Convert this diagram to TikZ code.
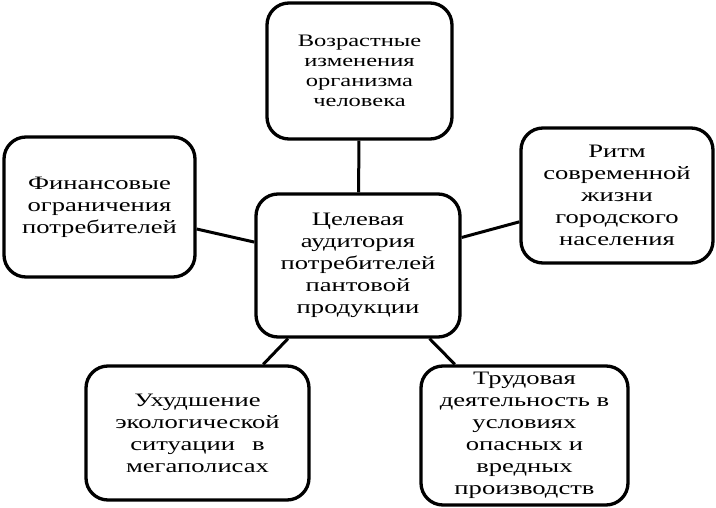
\documentclass[tikz,border=0pt]{standalone}
\usepackage{fontspec}
\setmainfont{Liberation Serif}[FakeStretch=1.4]
\begin{document}
\begin{tikzpicture}[x=1pt,y=-1pt,
  box/.style={draw=black,line width=3.3pt,rounded corners=22pt,align=center,
    inner sep=0pt,fill=white,font=\fontsize{19}{22}\selectfont},
  link/.style={draw=black,line width=3pt}]
\useasboundingbox (0,0) rectangle (716,508);
\node[box,minimum width=204pt,minimum height=143pt] (c) at (358,265.5)
  {Целевая\\аудитория\\потребителей\\пантовой\\продукции};
\node[box,minimum width=185pt,minimum height=136pt,font=\fontsize{17.5}{20}\selectfont] (t) at (359.5,71)
  {Возрастные\\изменения\\организма\\человека};
\node[box,minimum width=191pt,minimum height=140pt] (l) at (99.5,207)
  {Финансовые\\ограничения\\потребителей};
\node[box,minimum width=192pt,minimum height=135pt] (r) at (617,195.5)
  {Ритм\\современной\\жизни\\городского\\населения};
\node[box,minimum width=223pt,minimum height=134pt] (bl) at (197.5,433)
  {Ухудшение\\экологической\\ситуации\hspace{0.9em}в\\мегаполисах};
\node[box,minimum width=207pt,minimum height=139pt] (br) at (524.5,435.5)
  {Трудовая\\деятельность в\\условиях\\опасных и\\вредных\\производств};
\draw[link] (t) -- (c);
\draw[link] (l) -- (c);
\draw[link] (r) -- (c);
\draw[link] (bl) -- (c);
\draw[link] (br) -- (c);
\end{tikzpicture}
\end{document}
